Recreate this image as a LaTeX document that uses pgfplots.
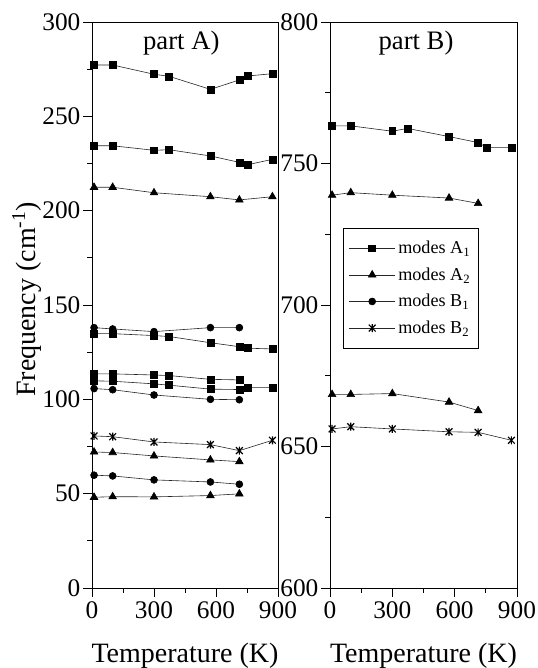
\documentclass[border=0pt]{standalone}
\usepackage{fontspec}
\setmainfont{Liberation Serif}
\usepackage{pgfplots}
\pgfplotsset{compat=1.18}
\pgfdeclareplotmark{xstar}{%
  \pgfpathmoveto{\pgfqpoint{0pt}{\pgfplotmarksize}}%
  \pgfpathlineto{\pgfqpoint{0pt}{-\pgfplotmarksize}}%
  \pgfpathmoveto{\pgfqpoint{-.85\pgfplotmarksize}{.85\pgfplotmarksize}}%
  \pgfpathlineto{\pgfqpoint{.85\pgfplotmarksize}{-.85\pgfplotmarksize}}%
  \pgfpathmoveto{\pgfqpoint{-.85\pgfplotmarksize}{-.85\pgfplotmarksize}}%
  \pgfpathlineto{\pgfqpoint{.85\pgfplotmarksize}{.85\pgfplotmarksize}}%
  \pgfusepathqstroke}
\pgfplotsset{
  sq/.style={black!85, line width=0.45pt, mark=square*, mark size=2.6pt, mark options={solid, fill=black, draw=black}},
  tri/.style={black!85, line width=0.45pt, mark=triangle*, mark size=3.3pt, mark options={solid, fill=black, draw=black}},
  circ/.style={black!85, line width=0.45pt, mark=*, mark size=2.6pt, mark options={solid, fill=black, draw=black}},
  ast/.style={black!85, line width=0.45pt, mark=xstar, mark size=3pt, mark options={solid, draw=black, line width=0.9pt}},
  base/.style={
    scale only axis, height=424.5pt,
    xmin=0, xmax=900, xtick={0,300,600,900}, minor x tick num=1,
    minor y tick num=1,
    tick pos=left, tick align=outside,
    major tick length=6.5pt, minor tick length=3.5pt,
    every tick/.style={black, line width=0.6pt},
    axis line style={black, line width=0.7pt},
    clip=false,
    /pgf/number format/assume math mode=true,
    tick label style={font=\fontsize{19}{22}\selectfont},
    yticklabel style={inner xsep=2pt},
    label style={font=\fontsize{21}{25}\selectfont},
    xlabel={Temperature (K)},
    xlabel style={at={(axis description cs:0.5,0)}, anchor=base, yshift=-56pt},
  }
}
\begin{document}
\begin{tikzpicture}
\path[use as bounding box] (-69pt,-60pt) rectangle (334.5pt,441pt);
\begin{axis}[base, at={(0pt,0pt)}, width=139.5pt,
  ymin=0, ymax=300, ytick={0,50,100,150,200,250,300},
  ylabel={Frequency (cm\textsuperscript{-1})},
  ylabel style={at={(axis description cs:0,0.51)}, anchor=center, yshift=49pt},
]
\addplot[sq] coordinates {(10,277.2) (100,277.2) (300,272.3) (373,271.2) (573,264.3) (713,269.3) (755,271.4) (873,272.6)};
\addplot[sq] coordinates {(10,234.4) (100,234.4) (300,232.0) (373,232.3) (573,229.0) (713,225.6) (755,224.4) (873,227.2)};
\addplot[tri] coordinates {(10,212.4) (100,212.4) (300,209.5) (573,207.4) (713,205.7) (873,207.4)};
\addplot[circ] coordinates {(10,138.0) (100,137.3) (300,135.9) (573,138.0) (713,138.0)};
\addplot[sq] coordinates {(10,134.8) (100,134.8) (300,133.8) (373,133.3) (573,130.0) (713,127.9) (755,127.1) (873,126.7)};
\addplot[sq] coordinates {(10,113.5) (100,113.5) (300,112.9) (373,112.6) (573,110.6) (713,110.3)};
\addplot[sq] coordinates {(10,109.8) (100,109.6) (300,108.2) (373,107.5) (573,105.4) (713,105.2) (755,106.2) (873,106.2)};
\addplot[circ] coordinates {(10,105.7) (100,105.1) (300,102.3) (573,100.0) (713,99.8)};
\addplot[ast] coordinates {(10,80.6) (100,80.2) (300,77.4) (573,76.0) (713,72.8) (873,78.3)};
\addplot[tri] coordinates {(10,72.1) (100,71.8) (300,70.0) (573,67.9) (713,67.0)};
\addplot[circ] coordinates {(10,59.8) (100,59.4) (300,57.3) (573,56.2) (713,55.0)};
\addplot[tri] coordinates {(10,48.1) (100,48.4) (300,48.3) (573,49.0) (713,49.9)};
\node[font=\fontsize{20}{24}\selectfont] at (rel axis cs:0.48,0.963) {part A)};
\end{axis}
\begin{axis}[base, at={(178.5pt,0pt)}, width=140.25pt,
  ymin=600, ymax=800, ytick={600,650,700,750,800},
  legend style={at={(0.07,0.636)}, anchor=north west, draw=black, line width=0.5pt,
    font=\fontsize{13.6}{15}\selectfont, inner xsep=4pt, inner ysep=7.5pt,
    row sep=5pt, legend cell align=left},
  legend image code/.code={\draw[mark repeat=2, mark phase=2] plot coordinates {(0cm,0cm) (0.61cm,0cm) (1.22cm,0cm)};},
]
\addlegendimage{sq}\addlegendentry{modes A\textsubscript{1}}
\addlegendimage{tri}\addlegendentry{modes A\textsubscript{2}}
\addlegendimage{circ}\addlegendentry{modes B\textsubscript{1}}
\addlegendimage{ast}\addlegendentry{modes B\textsubscript{2}}
\addplot[sq, forget plot] coordinates {(10,763.3) (100,763.3) (300,761.4) (373,762.4) (573,759.5) (713,757.4) (755,755.6) (873,755.6)};
\addplot[tri, forget plot] coordinates {(10,738.8) (100,739.7) (300,738.8) (573,737.8) (713,735.9)};
\addplot[tri, forget plot] coordinates {(10,668.4) (100,668.4) (300,668.7) (573,665.7) (713,662.7)};
\addplot[ast, forget plot] coordinates {(10,656.2) (100,657.0) (300,656.2) (573,655.2) (713,655.0) (873,652.2)};
\node[font=\fontsize{20}{24}\selectfont] at (rel axis cs:0.46,0.963) {part B)};
\end{axis}
\end{tikzpicture}
\end{document}
